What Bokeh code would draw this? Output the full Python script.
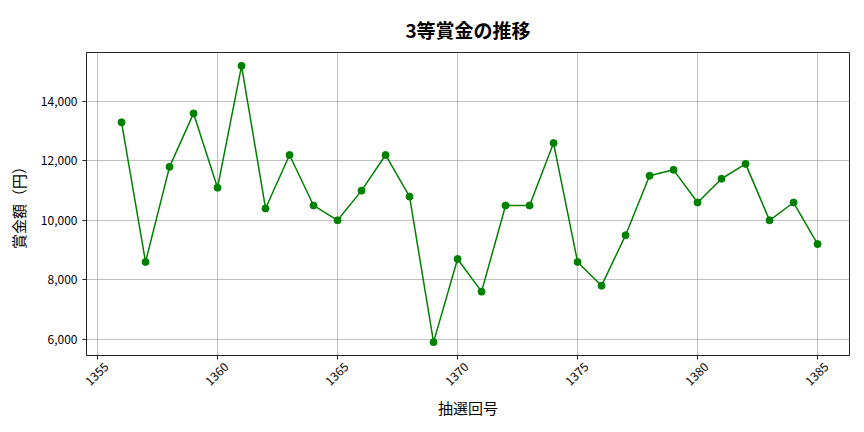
import math
from bokeh.plotting import figure
from bokeh.models import FixedTicker, NumeralTickFormatter, Range1d, LinearAxis
from bokeh.embed import file_html
from bokeh.resources import INLINE

draws = list(range(1356, 1386))
prizes = [13300, 8600, 11800, 13600, 11100, 15200, 10400, 12200, 10500, 10000,
          11000, 12200, 10800, 5900, 8700, 7600, 10500, 10500, 12600, 8600,
          7800, 9500, 11500, 11700, 10600, 11400, 11900, 10000, 10600, 9200]
x_ticks = [1355, 1360, 1365, 1370, 1375, 1380, 1385]
y_ticks = [6000, 8000, 10000, 12000, 14000]

title_text = "3等賞金の推移"
x_label = "抽選回号"
y_label = "賞金額（円）"

FONT = "Noto Sans CJK JP"
X_MIN, X_MAX = 1354.54, 1386.33
Y_MIN, Y_MAX = 5450, 15650
LABEL_SHIFT = 0.36  # shift of rotated tick labels so they are centred on ticks

p = figure(width=856, height=428, output_backend="svg", toolbar_location=None,
           title=title_text,
           x_range=Range1d(X_MIN, X_MAX), y_range=Range1d(Y_MIN, Y_MAX),
           x_axis_location=None,
           min_border_left=86, min_border_top=52, min_border_right=7, min_border_bottom=73)
p.extra_x_ranges = {"lbl": Range1d(X_MIN - LABEL_SHIFT, X_MAX - LABEL_SHIFT)}

p.title.align = "center"
p.title.text_font = FONT
p.title.text_font_size = "19px"
p.title.text_font_style = "bold"
p.title.text_color = "black"
p.title.standoff = 20

p.line(draws, prizes, line_color="green", line_width=1.5)
p.scatter(draws, prizes, size=7, fill_color="green", line_color="green")

# one bottom axis: labels at the shifted positions (major), tick marks at the true positions (minor)
x_ticker = FixedTicker(ticks=x_ticks, minor_ticks=[t - LABEL_SHIFT for t in x_ticks])
xa = LinearAxis(x_range_name="lbl", ticker=x_ticker,
                major_label_orientation=math.pi / 4,
                major_label_standoff=5,
                major_label_text_font=FONT,
                major_label_text_font_size="12px",
                major_label_text_color="black",
                major_tick_in=0, major_tick_out=0,
                major_tick_line_color=None,
                minor_tick_in=0, minor_tick_out=4,
                minor_tick_line_color="#222222",
                minor_tick_line_width=1,
                axis_line_color="#222222",
                axis_label=x_label,
                axis_label_text_font=FONT,
                axis_label_text_font_size="15px",
                axis_label_text_font_style="normal",
                axis_label_text_color="black",
                axis_label_standoff=4)
p.add_layout(xa, "below")

ya = p.yaxis[0]
ya.ticker = FixedTicker(ticks=y_ticks)
ya.formatter = NumeralTickFormatter(format="0,0")
ya.axis_label = y_label
ya.axis_label_text_font = FONT
ya.axis_label_text_font_size = "15px"
ya.axis_label_text_font_style = "normal"
ya.axis_label_text_color = "black"
ya.axis_label_standoff = 9
ya.major_label_text_font = FONT
ya.major_label_text_font_size = "12px"
ya.major_label_text_color = "black"
ya.minor_tick_line_color = None
ya.major_tick_in = 0
ya.major_tick_out = 4
ya.major_tick_line_color = "#222222"
ya.axis_line_color = "#222222"

p.xgrid.ticker = FixedTicker(ticks=x_ticks)
p.ygrid.ticker = FixedTicker(ticks=y_ticks)
p.grid.grid_line_color = "#b0b0b0"
p.grid.grid_line_width = 0.8

p.outline_line_color = "#222222"
p.outline_line_width = 1
p.background_fill_color = "white"
p.border_fill_color = "white"

open("out.html", "w").write(file_html(p, INLINE))
